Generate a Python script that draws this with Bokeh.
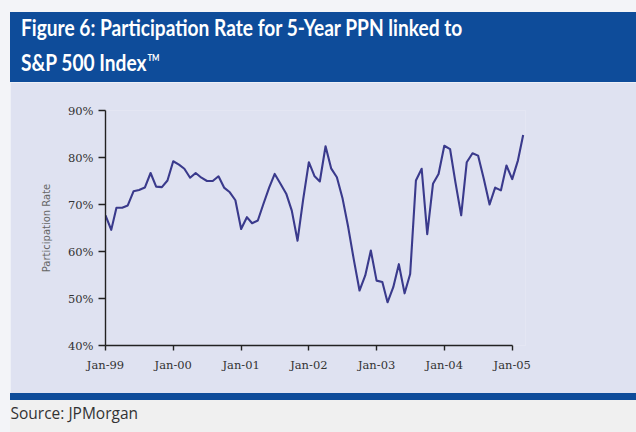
from datetime import datetime, timedelta
import pandas as pd
from bokeh.plotting import figure
from bokeh.layouts import column, row
from bokeh.models import (Range1d, FixedTicker, DatetimeTickFormatter,
                          PrintfTickFormatter, ColumnDataSource, Div, Spacer)
from bokeh.embed import file_html
from bokeh.resources import INLINE

# ---------------- data ----------------
title_line1 = "Figure 6: Participation Rate for 5-Year PPN linked to"
title_line2 = "S&amp;P 500 Index"
title_mark = "TM"
source_text = "Source: JPMorgan"
y_axis_title = "Participation Rate"

start_month = "1999-01-01"
participation_rate = [
    67.7, 64.6, 69.3, 69.3, 69.8, 72.8, 73.1, 73.6, 76.7, 73.8, 73.7, 75.1,   # 1999
    79.2, 78.5, 77.6, 75.7, 76.7, 75.7, 75.0, 75.0, 76.0, 73.6, 72.6, 70.9,   # 2000
    64.8, 67.3, 66.0, 66.6, 70.1, 73.6, 76.5, 74.4, 72.3, 68.7, 62.3, 71.0,   # 2001
    79.0, 76.0, 74.9, 82.4, 77.7, 75.8, 71.4, 65.2, 58.1, 51.7, 54.9, 60.2,   # 2002
    53.8, 53.5, 49.2, 52.4, 57.3, 51.1, 55.2, 75.1, 77.6, 63.7, 74.4, 76.5,   # 2003
    82.5, 81.8, 74.7, 67.7, 79.0, 80.9, 80.4, 75.4, 70.0, 73.6, 73.0, 78.3,   # 2004
    75.4, 79.4, 84.8,                                                         # 2005
]
y_ticks = [40, 50, 60, 70, 80, 90]
x_tick_years = [1999, 2000, 2001, 2002, 2003, 2004, 2005]

dates = pd.date_range(start_month, periods=len(participation_rate), freq="MS")
src = ColumnDataSource(dict(date=dates, rate=participation_rate))

# ---------------- colours ----------------
LIGHT = "#F3F4F8"
BLUE = "#0E4C9A"
LAVENDER = "#DFE2F1"
FOOT = "#F0F0F0"
LINE = "#3A3A8C"
AXIS = "#222222"

# ---------------- banner (HTML) ----------------
title_style = ("position:absolute; left:10.5px; white-space:nowrap; color:white; "
               "font-family:Lato, 'Open Sans', sans-serif; font-weight:bold; "
               "font-size:22px; line-height:22px; transform:scaleX(0.87); "
               "transform-origin:0 0;")
banner_html = (
    '<div style="position:relative; width:626px; height:70px;">'
    f'<div style="{title_style} top:5px;">{title_line1}</div>'
    f'<div style="{title_style} top:35px;">{title_line2}'
    f'<sup style="font-size:9px; vertical-align:10px; margin-left:1px;">{title_mark}</sup></div>'
    '</div>'
)
banner = Div(text=banner_html, width=626, height=70, margin=(12, 0, 0, 10),
             styles={"background-color": BLUE, "overflow": "hidden"})

# ---------------- main chart ----------------
x0 = datetime(1999, 1, 1)
x_end = x0 + timedelta(days=2263.6)
p = figure(width=626, height=311, output_backend="svg", toolbar_location=None,
           x_axis_type="datetime",
           x_range=Range1d(x0, x_end), y_range=Range1d(40, 90),
           min_border_left=95, min_border_right=111, min_border_top=28,
           min_border_bottom=48)
p.background_fill_color = LAVENDER
p.border_fill_color = LAVENDER
p.outline_line_color = None
p.grid.visible = False

p.line("date", "rate", source=src, line_color=LINE, line_width=2.1,
       line_join="round")

xa = p.xaxis[0]
xa.ticker = FixedTicker(ticks=[datetime(y, 1, 1).timestamp() * 1000 for y in x_tick_years])
xa.formatter = DatetimeTickFormatter(years="%b-%y", months="%b-%y", days="%b-%y",
                                     hours="%b-%y", minutes="%b-%y")
xa.bounds = (datetime(x_tick_years[0], 1, 1), datetime(x_tick_years[-1], 1, 1))
xa.major_tick_out = 5
xa.major_label_standoff = 7

ya = p.yaxis[0]
ya.ticker = FixedTicker(ticks=y_ticks)
ya.formatter = PrintfTickFormatter(format="%d%%")
ya.major_tick_out = 7
ya.major_label_standoff = 5
ya.axis_label = y_axis_title
ya.axis_label_text_font = "DejaVu Sans"
ya.axis_label_text_font_style = "normal"
ya.axis_label_text_font_size = "10px"
ya.axis_label_text_color = "#666666"
ya.axis_label_standoff = 13

for ax in (xa, ya):
    ax.axis_line_color = AXIS
    ax.axis_line_width = 1.4
    ax.major_tick_line_color = AXIS
    ax.major_tick_line_width = 1.4
    ax.major_tick_in = 0
    ax.minor_tick_line_color = None
    ax.major_label_text_font = "DejaVu Serif"
    ax.major_label_text_font_size = "11.5px"
    ax.major_label_text_color = "#333333"

left_strip = Spacer(width=10, height=311, styles={"background-color": LIGHT})
middle = row(left_strip, p, spacing=0)

# ---------------- footer (HTML) ----------------
footer_html = (
    '<div style="position:relative; width:626px; height:39px;">'
    f'<div style="position:absolute; left:0; top:0; width:626px; height:7px; background:{BLUE};"></div>'
    '<div style="position:absolute; left:0.5px; top:10px; white-space:nowrap; color:#333333; '
    "font-family:'Open Sans', sans-serif; font-size:15.5px; line-height:20px;\">"
    f'{source_text}</div>'
    '</div>'
)
footer = Div(text=footer_html, width=626, height=39, margin=(0, 0, 0, 10),
             styles={"background-color": FOOT, "overflow": "hidden"})

layout = column(banner, middle, footer, spacing=0,
                styles={"background-color": LIGHT})

with open("out.html", "w") as f:
    f.write(file_html(layout, INLINE))
